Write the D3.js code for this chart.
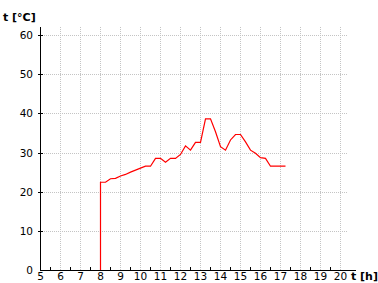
<!DOCTYPE html>
<html>
<head>
<meta charset="utf-8">
<script src="https://cdn.jsdelivr.net/npm/d3@7"></script>
<style>
body { margin: 0; background: #fff; }
text { font-family: "DejaVu Sans", Verdana, sans-serif; }
</style>
</head>
<body>
<div id="chartArea"></div>
<script>
// time in hours, temperature in °C
const hours = [8, 8, 8.25, 8.5, 8.75, 9, 9.25, 9.5, 9.75, 10, 10.25, 10.5, 10.75, 11, 11.25, 11.5, 11.75,
  12, 12.25, 12.5, 12.75, 13, 13.25, 13.5, 13.75, 14, 14.25, 14.5, 14.75, 15, 15.25, 15.5, 15.75,
  16, 16.25, 16.5, 16.75, 17, 17.25];
const temps = [0, 22.4, 22.4, 23.3, 23.4, 24.0, 24.4, 25.0, 25.5, 26.0, 26.5, 26.5, 28.5, 28.5, 27.5, 28.5, 28.5,
  29.5, 31.7, 30.6, 32.6, 32.6, 38.6, 38.6, 35.3, 31.5, 30.6, 33.2, 34.6, 34.6, 32.7, 30.6, 29.8,
  28.7, 28.5, 26.5, 26.5, 26.5, 26.5];
const xTicks = d3.range(5, 21);
const yTicks = [0, 10, 20, 30, 40, 50, 60];

const width = 378, height = 283;
const svg = d3.select("#chartArea").append("svg")
  .attr("width", width).attr("height", height);

const x = d3.scaleLinear().domain([5, 20]).range([40, 340]);
const y = d3.scaleLinear().domain([0, 60]).range([270, 35]);
const gridRight = 347, axisRight = 356, axisTop = 27;

// grid
svg.append("g").selectAll("line")
  .data(xTicks.filter(d => d > 5))
  .enter().append("line")
  .attr("x1", d => Math.round(x(d)) + 0.5).attr("x2", d => Math.round(x(d)) + 0.5)
  .attr("y1", y(0)).attr("y2", axisTop)
  .attr("stroke", "#c4c4c4").attr("stroke-dasharray", "1,1");

svg.append("g").selectAll("line")
  .data(yTicks.filter(d => d > 0))
  .enter().append("line")
  .attr("y1", d => Math.round(y(d)) + 0.5).attr("y2", d => Math.round(y(d)) + 0.5)
  .attr("x1", x(5)).attr("x2", gridRight)
  .attr("stroke", "#c4c4c4").attr("stroke-dasharray", "1,1");

// axes lines
svg.append("line")
  .attr("x1", 40.5).attr("x2", 40.5).attr("y1", axisTop).attr("y2", 270.5)
  .attr("stroke", "#000");
svg.append("line")
  .attr("x1", 40).attr("x2", axisRight).attr("y1", 270.5).attr("y2", 270.5)
  .attr("stroke", "#000");

// y ticks + labels
const yg = svg.append("g").selectAll("g").data(yTicks).enter().append("g")
  .attr("transform", d => `translate(0,${Math.round(y(d)) + 0.5})`);
yg.filter(d => d > 0).append("line").attr("x1", 38).attr("x2", 43).attr("stroke", "#000");
yg.append("text").attr("x", 33).attr("dy", "0.35em")
  .attr("text-anchor", "end").style("font-size", "10.5px").text(d => d);

// x minor ticks at half hours
svg.append("g").selectAll("line")
  .data(d3.range(5.5, 20.5, 1))
  .enter().append("line")
  .attr("x1", d => Math.round(x(d)) + 0.5).attr("x2", d => Math.round(x(d)) + 0.5)
  .attr("y1", 267).attr("y2", 270)
  .attr("stroke", "#000");

// x labels
svg.append("g").selectAll("text").data(xTicks).enter().append("text")
  .attr("x", d => x(d) + 0.5).attr("y", 280)
  .attr("text-anchor", "middle").style("font-size", "10.5px").text(d => d);

// axis titles
svg.append("text").attr("x", 3).attr("y", 21)
  .style("font-size", "11px").style("font-weight", "bold").text("t [°C]");
svg.append("text").attr("x", 351).attr("y", 280)
  .style("font-size", "11px").style("font-weight", "bold").text("t [h]");

// temperature line
const pts = hours.map((h, i) => [h, temps[i]]);
svg.append("path")
  .datum(pts)
  .attr("d", d3.line().x(d => x(d[0]) + 0.5).y(d => y(d[1])))
  .attr("fill", "none")
  .attr("stroke", "#ff0000")
  .attr("stroke-width", 1.2);
</script>
</body>
</html>
